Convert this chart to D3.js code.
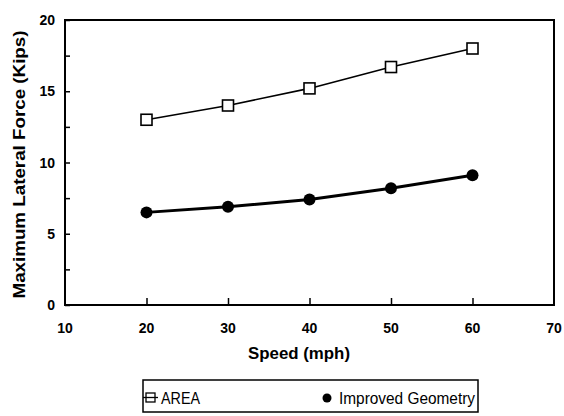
<!DOCTYPE html>
<html>
<head>
<meta charset="utf-8">
<script src="https://cdn.jsdelivr.net/npm/d3@7"></script>
<style>
  body { margin: 0; background: #fff; }
  svg text { font-family: "Liberation Sans", Arial, sans-serif; fill: #000; }
</style>
</head>
<body>
<div id="chart"></div>
<script>
// chart data
var speeds = [20, 30, 40, 50, 60];
var areaForce = [13.0, 14.0, 15.2, 16.7, 18.0];
var improvedForce = [6.5, 6.9, 7.4, 8.2, 9.1];
var xTicks = [10, 20, 30, 40, 50, 60, 70];
var yTicks = [0, 5, 10, 15, 20];
var yMinorTicks = [2.5, 7.5, 12.5, 17.5];

var width = 564, height = 416;
var margin = {left: 65, top: 20, right: 10, bottom: 111};

var svg = d3.select('#chart').append('svg')
  .attr('width', width)
  .attr('height', height);

var x = d3.scaleLinear().domain([10, 70]).range([margin.left, width - margin.right]);
var y = d3.scaleLinear().domain([0, 20]).range([height - margin.bottom, margin.top]);

// frame
svg.append('rect')
  .attr('x', x(10)).attr('y', y(20))
  .attr('width', x(70) - x(10)).attr('height', y(0) - y(20))
  .attr('fill', 'none').attr('stroke', '#000').attr('stroke-width', 2);

// y axis, ticks inside
var yAxis = svg.append('g')
  .attr('transform', 'translate(' + x(10) + ',0)')
  .call(d3.axisRight(y).tickValues(yTicks.concat(yMinorTicks)).tickSize(5).tickFormat(''));
yAxis.select('.domain').remove();
yAxis.selectAll('line').attr('stroke-width', 1.5);

svg.selectAll('.ylab')
  .data(yTicks)
  .enter().append('text')
  .attr('class', 'ylab')
  .attr('x', x(10) - 10)
  .attr('y', function(d) { return y(d) + 5; })
  .attr('text-anchor', 'end')
  .attr('font-size', 14)
  .attr('font-weight', 'bold')
  .text(function(d) { return d; });

// x axis, ticks inside
var xAxis = svg.append('g')
  .attr('transform', 'translate(0,' + y(0) + ')')
  .call(d3.axisTop(x).tickValues(xTicks.slice(1, -1)).tickSize(7).tickFormat(''));
xAxis.select('.domain').remove();
xAxis.selectAll('line').attr('stroke-width', 1.5);

svg.selectAll('.xlab')
  .data(xTicks)
  .enter().append('text')
  .attr('class', 'xlab')
  .attr('x', function(d) { return x(d); })
  .attr('y', y(0) + 28)
  .attr('text-anchor', 'middle')
  .attr('font-size', 14)
  .attr('font-weight', 'bold')
  .text(function(d) { return d; });

// axis titles (scanned font is tall and a bit narrow)
svg.append('text')
  .attr('x', 299)
  .attr('y', 359)
  .attr('text-anchor', 'middle')
  .attr('font-size', 16)
  .attr('font-weight', 'bold')
  .attr('textLength', 102)
  .attr('lengthAdjust', 'spacingAndGlyphs')
  .text('Speed (mph)');

svg.append('text')
  .attr('transform', 'translate(25,' + (y(10) + 2) + ') rotate(-90)')
  .attr('text-anchor', 'middle')
  .attr('font-size', 16)
  .attr('font-weight', 'bold')
  .attr('textLength', 268)
  .attr('lengthAdjust', 'spacingAndGlyphs')
  .text('Maximum Lateral Force (Kips)');

// series
var line = d3.line()
  .x(function(d) { return x(d[0]); })
  .y(function(d) { return y(d[1]); });

var areaPts = d3.zip(speeds, areaForce);
var improvedPts = d3.zip(speeds, improvedForce);

svg.append('path')
  .attr('d', line(areaPts))
  .attr('fill', 'none').attr('stroke', '#000').attr('stroke-width', 1.6);

svg.append('path')
  .attr('d', line(improvedPts))
  .attr('fill', 'none').attr('stroke', '#000').attr('stroke-width', 3);

svg.selectAll('.sq')
  .data(areaPts)
  .enter().append('rect')
  .attr('class', 'sq')
  .attr('x', function(d) { return x(d[0]) - 5.5; })
  .attr('y', function(d) { return y(d[1]) - 5.5; })
  .attr('width', 11).attr('height', 11)
  .attr('fill', '#fff').attr('stroke', '#000').attr('stroke-width', 1.6);

svg.selectAll('.dot')
  .data(improvedPts)
  .enter().append('circle')
  .attr('class', 'dot')
  .attr('cx', function(d) { return x(d[0]); })
  .attr('cy', function(d) { return y(d[1]); })
  .attr('r', 6)
  .attr('fill', '#000');

// legend
var legend = svg.append('g');
legend.append('rect')
  .attr('x', 143).attr('y', 380)
  .attr('width', 335).attr('height', 32)
  .attr('fill', 'none').attr('stroke', '#000').attr('stroke-width', 1.5);

legend.append('rect')
  .attr('x', 146).attr('y', 393)
  .attr('width', 9).attr('height', 9)
  .attr('fill', '#fff').attr('stroke', '#000').attr('stroke-width', 1.3);
legend.append('line')
  .attr('x1', 143).attr('x2', 158)
  .attr('y1', 397.5).attr('y2', 397.5)
  .attr('stroke', '#000').attr('stroke-width', 1.3);
legend.append('text')
  .attr('x', 161).attr('y', 404)
  .attr('font-size', 16)
  .attr('textLength', 39)
  .attr('lengthAdjust', 'spacingAndGlyphs')
  .text('AREA');

legend.append('circle')
  .attr('cx', 327).attr('cy', 398)
  .attr('r', 4.5)
  .attr('fill', '#000');
legend.append('text')
  .attr('x', 339).attr('y', 404)
  .attr('font-size', 16)
  .attr('textLength', 136)
  .attr('lengthAdjust', 'spacingAndGlyphs')
  .text('Improved Geometry');
</script>
</body>
</html>
